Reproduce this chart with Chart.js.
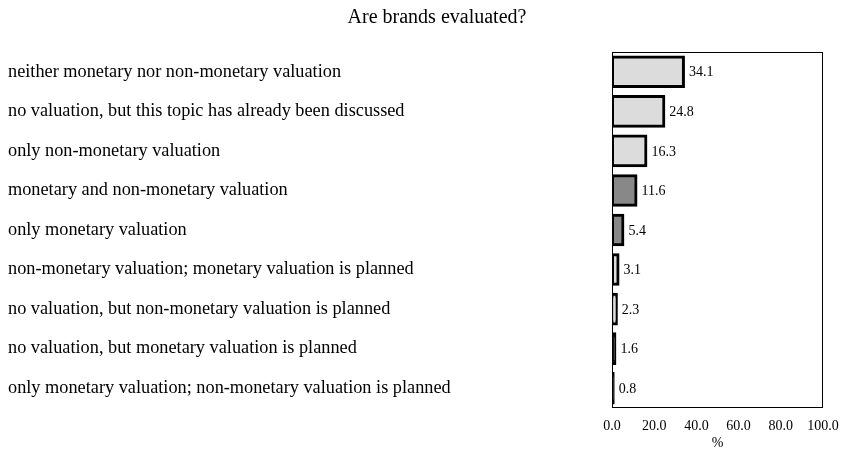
<!DOCTYPE html>
<html>
<head>
<meta charset="utf-8">
<script src="https://cdn.jsdelivr.net/npm/chart.js@4"></script>
<style>
html,body{margin:0;padding:0;background:#fff;}
#wrap{width:841px;height:452px;}
</style>
</head>
<body>
<div id="wrap"><canvas id="c" width="841" height="452"></canvas></div>
<script>
const categories = [
  "neither monetary nor non-monetary valuation",
  "no valuation, but this topic has already been discussed",
  "only non-monetary valuation",
  "monetary and non-monetary valuation",
  "only monetary valuation",
  "non-monetary valuation; monetary valuation is planned",
  "no valuation, but non-monetary valuation is planned",
  "no valuation, but monetary valuation is planned",
  "only monetary valuation; non-monetary valuation is planned"
];
const values = [34.1, 24.8, 16.3, 11.6, 5.4, 3.1, 2.3, 1.6, 0.8];
const barColors = ["#dcdcdc","#dcdcdc","#dcdcdc","#888888","#888888","#dcdcdc","#dcdcdc","#111111","#111111"];
const xTicks = [0, 20, 40, 60, 80, 100];
const titleText = "Are brands evaluated?";
const axisTitle = "%";

const FONT = "'Liberation Serif', 'Times New Roman', serif";

const frame = {
  id: 'frame',
  afterDatasetsDraw(chart) {
    const a = chart.chartArea, ctx = chart.ctx;
    ctx.save();
    ctx.strokeStyle = '#000';
    ctx.lineWidth = 1;
    ctx.strokeRect(a.left + 0.5, a.top + 0.5, a.right - a.left - 1, a.bottom - a.top - 1);
    ctx.restore();
  }
};
const valueLabels = {
  id: 'valueLabels',
  afterDatasetsDraw(chart) {
    const ctx = chart.ctx;
    const meta = chart.getDatasetMeta(0);
    ctx.save();
    ctx.fillStyle = '#000';
    ctx.font = "14px " + FONT;
    ctx.textAlign = 'left';
    ctx.textBaseline = 'middle';
    meta.data.forEach((bar, i) => {
      ctx.fillText(values[i].toFixed(1), bar.x + 5, bar.y + 1);
    });
    ctx.restore();
  }
};
const titlePlugin = {
  id: 'titlePlugin',
  afterDraw(chart) {
    const ctx = chart.ctx;
    ctx.save();
    ctx.fillStyle = '#000';
    ctx.font = "20px " + FONT;
    ctx.textAlign = 'center';
    ctx.textBaseline = 'middle';
    ctx.fillText(titleText, 437, 18);
    ctx.restore();
  }
};

new Chart(document.getElementById('c'), {
  type: 'bar',
  data: {
    labels: categories,
    datasets: [{
      data: values,
      backgroundColor: barColors,
      borderColor: '#000',
      borderWidth: 3,
      borderSkipped: false,
      inflateAmount: 1,
      categoryPercentage: 0.9,
      barPercentage: 0.86
    }]
  },
  options: {
    indexAxis: 'y',
    responsive: false,
    animation: false,
    devicePixelRatio: 1,
    layout: { padding: { top: 52, right: 18, left: 8, bottom: 0 } },
    plugins: { legend: { display: false }, tooltip: { enabled: false }, title: { display: false } },
    scales: {
      x: {
        min: 0, max: 100,
        afterBuildTicks(scale) { scale.ticks = xTicks.map(v => ({ value: v })); },
        afterFit(scale) { scale.height = 44; scale.paddingLeft = 0; scale.paddingRight = 0; },
        grid: { display: false, drawTicks: false },
        border: { display: false },
        ticks: {
          color: '#000',
          font: { family: FONT, size: 14 },
          padding: 10,
          maxRotation: 0,
          callback: v => Number(v).toFixed(1)
        },
        title: { display: true, text: axisTitle, color: '#000', font: { family: FONT, size: 14 }, padding: { top: 5, bottom: 0 } }
      },
      y: {
        afterFit(scale) { scale.width = 604; scale.paddingTop = 0; scale.paddingBottom = 0; },
        grid: { display: false, drawTicks: false },
        border: { display: false },
        ticks: {
          color: '#000',
          crossAlign: 'far',
          font: { family: FONT, size: 18.3 },
          padding: 0
        }
      }
    }
  },
  plugins: [frame, valueLabels, titlePlugin]
});
</script>
</body>
</html>
